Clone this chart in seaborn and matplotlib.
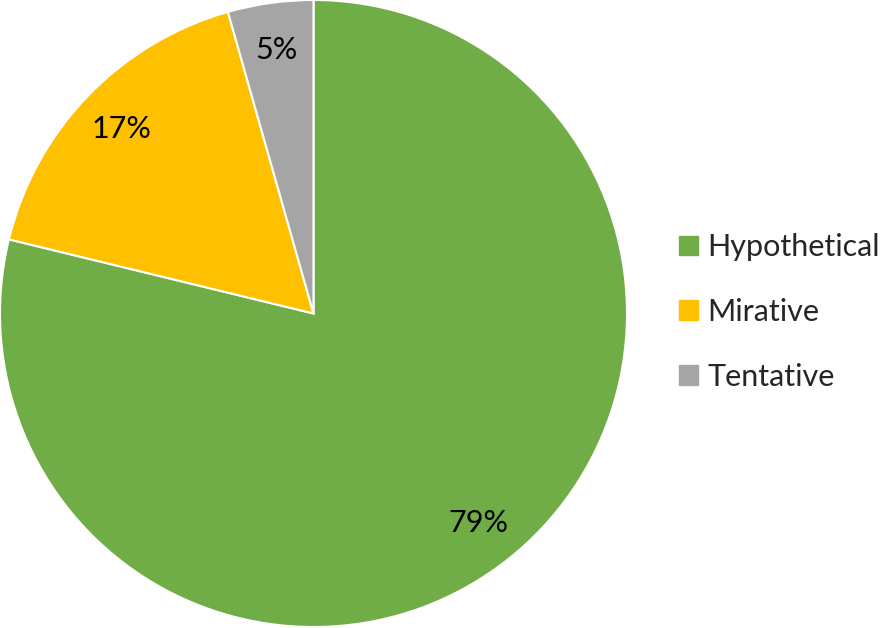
import matplotlib
matplotlib.use("Agg")
import matplotlib.pyplot as plt
import matplotlib.patches as mpatches
import seaborn as sns
import numpy as np

# ── Data ─────────────────────────────────────────────────────────────────────
categories = ["Hypothetical", "Mirative", "Tentative"]
shares     = [78.8, 16.8, 4.4]
pct_labels = ["79%", "17%", "5%"]
colors     = ["#70AD47", "#FFC000", "#A5A5A5"]

sns.set_style("white")
plt.rcParams["font.family"] = ["Lato", "DejaVu Sans"]

W, H = 881, 628
fig = plt.figure(figsize=(W / 100, H / 100), dpi=100, facecolor="white")
ax = fig.add_axes([0 / W, 1 - 627 / H, 627 / W, 627 / H])

wedges, _ = ax.pie(
    shares, colors=colors, startangle=90, counterclock=False,
    radius=1.0,
    wedgeprops=dict(edgecolor="white", linewidth=1.5),
)
ax.set_xlim(-1.0, 1.0)
ax.set_ylim(-1.0, 1.0)
ax.set_aspect("equal")

# percentage labels along each wedge's bisector
for w, lab in zip(wedges, pct_labels):
    mid = np.deg2rad((w.theta1 + w.theta2) / 2)
    ax.text(0.85 * np.cos(mid), 0.85 * np.sin(mid), lab,
            ha="center", va="center", fontsize=22, color="black")

handles = [mpatches.Patch(color=c, label=l) for c, l in zip(colors, categories)]
fig.legend(
    handles=handles, loc="center left", bbox_to_anchor=(679 / W, 1 - 312 / H),
    frameon=False, fontsize=22, handlelength=0.62, handleheight=0.62,
    handletextpad=0.3, labelspacing=1.2, borderpad=0, borderaxespad=0,
)

fig.savefig("out.png", dpi=100, facecolor="white")
